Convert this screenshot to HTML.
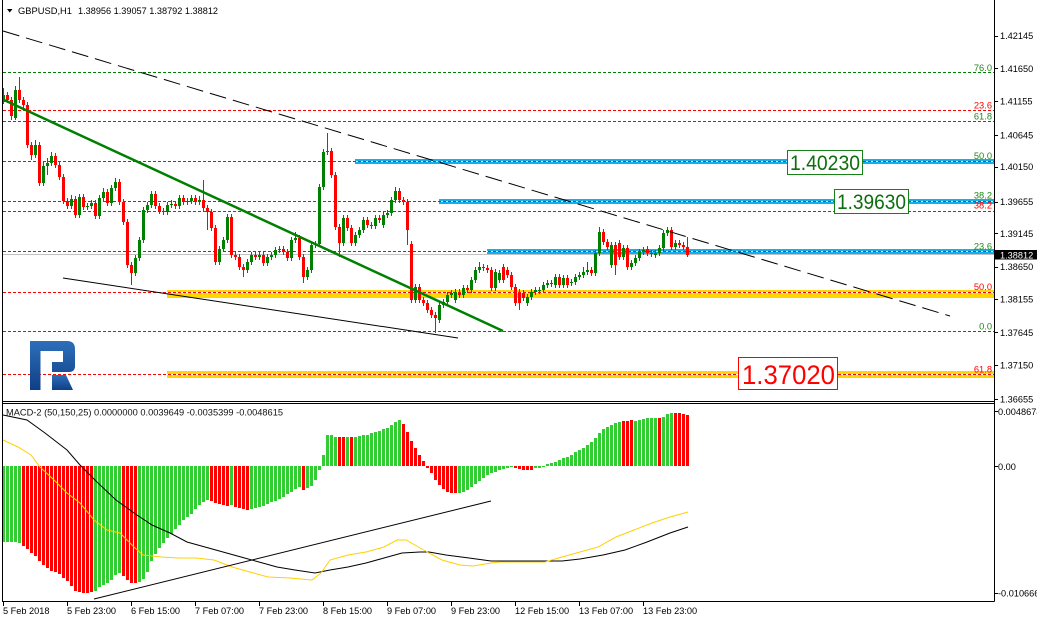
<!DOCTYPE html>
<html><head><meta charset="utf-8"><style>
html,body{margin:0;padding:0;background:#fff;width:1037px;height:622px;overflow:hidden}
svg{display:block;font-family:"Liberation Sans",Arial,sans-serif}
</style></head><body>
<svg width="1037" height="622" viewBox="0 0 1037 622" xmlns="http://www.w3.org/2000/svg">
<defs><linearGradient id="lg" x1="0" y1="0" x2="0" y2="1"><stop offset="0" stop-color="#2d6fba"/><stop offset="1" stop-color="#0f3f86"/></linearGradient></defs>
<rect width="1037" height="622" fill="#fff"/>

<!-- bands -->
<g shape-rendering="crispEdges">
<rect x="355" y="159" width="639" height="5" fill="#12b0ec"/>
<rect x="439" y="199" width="555" height="5" fill="#12b0ec"/>
<rect x="487" y="249" width="507" height="5" fill="#12b0ec"/>
<rect x="167" y="290" width="827" height="8" fill="#ffd700"/>
<rect x="167" y="371" width="827" height="7" fill="#ffd700"/>
<path d="M355 161.5H994M439 201.5H994M487 251.5H994M167 292.5H994M167 374.5H994" stroke="#fff" stroke-width="1"/>
<line x1="3" y1="254.5" x2="994" y2="254.5" stroke="#c0c0c0" stroke-width="1"/>
<path d="M3 72.5H994M3 121.5H994M3 161.5H994M3 201.5H994M3 251.5H994M3 331.5H994" stroke="#008000" stroke-width="1" stroke-dasharray="3,2" fill="none"/>
<path d="M3 110.5H994M3 211.5H994M3 292.5H994M3 374.5H994" stroke="#ff0000" stroke-width="1" stroke-dasharray="3,2" fill="none"/>
</g>

<!-- fib labels -->
<g font-size="9.3" text-anchor="end">
<text x="992" y="71" fill="#1f861f">76.0</text>
<text x="992" y="108.5" fill="#ff0000">23.6</text>
<text x="992" y="119.5" fill="#1f861f">61.8</text>
<text x="992" y="159" fill="#1f861f">50.0</text>
<text x="992" y="198.5" fill="#1f861f">38.2</text>
<text x="992" y="208.5" fill="#ff0000">38.2</text>
<text x="992" y="249.5" fill="#1f861f">23.6</text>
<text x="992" y="290" fill="#ff0000">50.0</text>
<text x="992" y="329.5" fill="#1f861f">0.0</text>
<text x="992" y="372.5" fill="#ff0000">61.8</text>
</g>

<!-- logo -->
<path d="M30 341H67Q75 341 75 349V366Q75 372 69 372H52V362H63V351H40.5V390H30Z" fill="url(#lg)"/>
<path d="M52 375H66L73 390H52Z" fill="url(#lg)"/>

<!-- candles -->
<g shape-rendering="crispEdges" fill="none">
<path stroke="#008000" stroke-width="1" d="M3.5 88V104M15.5 86V120M35.5 140V158M43.5 162V186M47.5 158V175M51.5 152V166M71.5 195V209M79.5 194V218M87.5 203V210M91.5 200V209M99.5 195V219M103.5 188V201M111.5 185V206M115.5 178V191M135.5 255V276M139.5 237V261M143.5 207V243M147.5 202V213M151.5 191V208M167.5 202V215M171.5 200V208M179.5 195V209M187.5 198V205M191.5 195V204M199.5 196V205M219.5 246V265M223.5 237V252M227.5 214V243M247.5 259V273M251.5 252V265M259.5 252V260M267.5 254V266M271.5 252V260M275.5 247V258M279.5 246V253M291.5 237V261M295.5 232V243M307.5 267V280M311.5 242V273M315.5 241V248M319.5 184V247M323.5 149V190M327.5 133V155M343.5 215V246M355.5 232V246M359.5 227V238M363.5 217V233M375.5 215V229M383.5 212V228M387.5 210V218M391.5 197V216M395.5 187V203M415.5 284V303M439.5 302V323M443.5 299V308M447.5 292V305M451.5 290V298M455.5 289V303M463.5 285V298M471.5 277V293M475.5 267V283M479.5 262V273M495.5 269V291M499.5 270V283M527.5 294V306M531.5 289V300M535.5 287V295M539.5 287V294M543.5 282V293M547.5 280V288M551.5 280V287M555.5 274V288M563.5 275V288M571.5 279V286M575.5 274V285M579.5 272V280M583.5 267V278M587.5 262V275M595.5 250V276M599.5 227V256M611.5 242V268M623.5 245V260M631.5 260V270M635.5 255V266M639.5 249V261M643.5 247V255M655.5 250V258M659.5 245V256M663.5 230V251M667.5 227V236M675.5 240V250"/>
<path stroke="#008000" stroke-width="3" d="M3.5 95V102M15.5 90V118M35.5 145V155M43.5 166V183M47.5 163V166M51.5 156V163M71.5 199V206M79.5 197V215M87.5 206V207M91.5 203V206M99.5 198V216M103.5 192V198M111.5 188V203M115.5 182V188M135.5 258V273M139.5 240V258M143.5 210V240M147.5 205V210M151.5 194V205M167.5 205V212M171.5 204V205M179.5 198V206M187.5 201V202M191.5 198V201M199.5 200V202M219.5 249V262M223.5 240V249M227.5 217V240M247.5 262V270M251.5 255V262M259.5 255V257M267.5 257V263M271.5 255V257M275.5 250V255M279.5 249V250M291.5 240V258M295.5 238V240M307.5 270V277M311.5 245V270M315.5 244V245M319.5 187V244M323.5 152V187M327.5 151V152M343.5 218V243M355.5 235V243M359.5 230V235M363.5 220V230M375.5 218V226M383.5 215V225M387.5 213V215M391.5 200V213M395.5 191V200M415.5 287V300M439.5 305V320M443.5 302V305M447.5 295V302M451.5 293V295M455.5 292V300M463.5 288V295M471.5 280V290M475.5 270V280M479.5 267V270M495.5 272V288M499.5 273V280M527.5 297V303M531.5 292V297M535.5 290V292M539.5 290V291M543.5 285V290M547.5 283V285M551.5 283V284M555.5 277V285M563.5 278V285M571.5 282V283M575.5 277V282M579.5 275V277M583.5 272V275M587.5 270V272M595.5 253V273M599.5 232V253M611.5 245V265M623.5 248V257M631.5 263V267M635.5 258V263M639.5 252V258M643.5 250V252M655.5 253V255M659.5 248V253M663.5 233V248M667.5 230V233M675.5 243V247"/>
<path stroke="#ff0000" stroke-width="1" d="M7.5 92V103M11.5 97V120M19.5 77V103M23.5 97V108M27.5 102V148M31.5 142V160M39.5 142V186M55.5 153V168M59.5 162V180M63.5 174V204M67.5 198V209M75.5 196V218M83.5 194V210M95.5 200V219M107.5 189V206M119.5 179V205M123.5 199V225M127.5 219V268M131.5 262V285M155.5 191V209M159.5 203V214M163.5 208V215M175.5 201V209M183.5 195V205M195.5 195V205M203.5 180V211M207.5 205V230M211.5 209V231M215.5 225V265M231.5 214V258M235.5 252V260M239.5 254V270M243.5 264V277M255.5 252V260M263.5 252V266M283.5 246V255M287.5 249V261M299.5 235V260M303.5 254V283M331.5 148V178M335.5 172V230M339.5 224V257M347.5 215V231M351.5 225V246M367.5 217V228M371.5 222V229M379.5 215V223M399.5 188V203M403.5 197V205M407.5 199V245M411.5 241V303M419.5 284V303M423.5 297V306M427.5 300V313M431.5 307V318M435.5 312V333M459.5 289V298M467.5 285V293M483.5 264V271M487.5 265V273M491.5 267V291M503.5 264V283M507.5 267V278M511.5 272V290M515.5 284V306M519.5 289V310M523.5 290V301M559.5 274V288M567.5 275V288M591.5 267V276M603.5 229V245M607.5 239V250M615.5 242V275M619.5 240V260M627.5 245V270M647.5 246V256M651.5 250V257M671.5 227V250M679.5 240V248M683.5 242V250M687.5 237V257"/>
<path stroke="#ff0000" stroke-width="3" d="M7.5 95V100M11.5 100V116M19.5 90V100M23.5 100V105M27.5 105V145M31.5 145V155M39.5 145V183M55.5 156V165M59.5 165V177M63.5 177V201M67.5 201V206M75.5 199V215M83.5 197V207M95.5 203V216M107.5 192V203M119.5 182V202M123.5 202V222M127.5 222V265M131.5 265V273M155.5 194V206M159.5 206V211M163.5 211V212M175.5 204V206M183.5 198V202M195.5 198V202M203.5 200V208M207.5 208V212M211.5 212V228M215.5 228V262M231.5 217V255M235.5 255V257M239.5 257V267M243.5 267V270M255.5 255V257M263.5 255V263M283.5 249V252M287.5 252V258M299.5 238V257M303.5 257V277M331.5 151V175M335.5 175V227M339.5 227V243M347.5 218V228M351.5 228V243M367.5 220V225M371.5 225V226M379.5 218V220M399.5 191V200M403.5 200V202M407.5 202V230M411.5 244V300M419.5 287V300M423.5 300V303M427.5 303V310M431.5 310V315M435.5 315V318M459.5 292V295M467.5 288V290M483.5 267V268M487.5 268V270M491.5 270V288M503.5 267V280M507.5 270V275M511.5 275V287M515.5 287V303M519.5 292V303M523.5 293V298M559.5 277V285M567.5 278V285M591.5 270V273M603.5 232V242M607.5 242V247M615.5 245V265M619.5 243V257M627.5 248V267M647.5 249V253M651.5 253V254M671.5 230V247M679.5 243V245M683.5 245V247M687.5 247V255"/>
</g>

<!-- trend lines -->
<line x1="3" y1="31" x2="950" y2="316" stroke="#000" stroke-width="1" stroke-dasharray="17,7"/>
<line x1="3" y1="99.5" x2="503" y2="331" stroke="#008000" stroke-width="2.5"/>
<line x1="63" y1="278" x2="458" y2="338" stroke="#000" stroke-width="1"/>

<!-- level boxes -->
<rect x="787.5" y="150.5" width="75" height="24" fill="#fff" stroke="#178017" stroke-width="1"/>
<text x="790" y="170" font-size="21" fill="#0c6e0c" textLength="70" lengthAdjust="spacingAndGlyphs">1.40230</text>
<rect x="834.5" y="189.5" width="74" height="24" fill="#fff" stroke="#178017" stroke-width="1"/>
<text x="837" y="209" font-size="21" fill="#0c6e0c" textLength="69" lengthAdjust="spacingAndGlyphs">1.39630</text>
<rect x="738.5" y="357.5" width="99" height="32" fill="#fff" stroke="#ff0000" stroke-width="1"/>
<text x="742" y="384" font-size="26.5" fill="#ff0000" textLength="93" lengthAdjust="spacingAndGlyphs">1.37020</text>

<!-- header -->
<polygon points="7,9 12.5,9 9.75,12.5" fill="#000"/>
<text x="18" y="14" font-size="9.5" fill="#000" textLength="54" lengthAdjust="spacingAndGlyphs">GBPUSD,H1</text>
<text x="78" y="14" font-size="9.5" fill="#000" textLength="140" lengthAdjust="spacingAndGlyphs">1.38956 1.39057 1.38792 1.38812</text>

<!-- MACD histogram -->
<g shape-rendering="crispEdges" fill="none">
<path stroke="#32cd32" stroke-width="3" d="M3.5 466V542M7.5 466V542M11.5 466V542M15.5 466V542M19.5 466V543M95.5 466V591M99.5 466V587M103.5 466V585M107.5 466V583M111.5 466V580M115.5 466V575M119.5 466V573M139.5 466V582M143.5 466V579M147.5 466V572M151.5 466V561M155.5 466V554M159.5 466V548M163.5 466V543M167.5 466V538M171.5 466V534M175.5 466V529M179.5 466V525M183.5 466V520M187.5 466V517M191.5 466V514M195.5 466V509M199.5 466V505M203.5 466V502M207.5 466V500M231.5 466V505M251.5 466V509M255.5 466V508M259.5 466V507M263.5 466V506M267.5 466V504M271.5 466V502M275.5 466V501M279.5 466V499M283.5 466V497M287.5 466V494M291.5 466V492M295.5 466V489M299.5 466V487M307.5 466V488M311.5 466V486M315.5 466V480M319.5 466V470M323.5 466V455M327.5 466V435M331.5 466V435M335.5 466V437M347.5 466V437M355.5 466V437M359.5 466V436M363.5 466V435M367.5 466V435M371.5 466V433M375.5 466V432M379.5 466V431M383.5 466V429M387.5 466V428M391.5 466V425M395.5 466V422M399.5 466V420M459.5 466V493M463.5 466V492M467.5 466V490M471.5 466V487M475.5 466V484M479.5 466V481M483.5 466V478M487.5 466V475M491.5 466V473M495.5 466V472M499.5 466V470M503.5 466V469M507.5 466V468M511.5 466V467M535.5 466V468M539.5 466V468M543.5 466V467M547.5 466V464M551.5 466V463M555.5 466V462M559.5 466V460M563.5 466V458M567.5 466V457M571.5 466V455M575.5 466V452M579.5 466V450M583.5 466V448M587.5 466V445M591.5 466V442M595.5 466V438M599.5 466V433M603.5 466V429M607.5 466V427M611.5 466V425M615.5 466V423M619.5 466V422M635.5 466V421M639.5 466V420M643.5 466V419M647.5 466V418M651.5 466V418M655.5 466V418M663.5 466V417M667.5 466V414M671.5 466V413"/>
<path stroke="#ff0000" stroke-width="3" d="M23.5 466V546M27.5 466V549M31.5 466V553M35.5 466V556M39.5 466V561M43.5 466V565M47.5 466V568M51.5 466V571M55.5 466V572M59.5 466V574M63.5 466V578M67.5 466V581M71.5 466V586M75.5 466V591M79.5 466V592M83.5 466V593M87.5 466V593M91.5 466V592M123.5 466V576M127.5 466V580M131.5 466V583M135.5 466V583M211.5 466V501M215.5 466V503M219.5 466V504M223.5 466V505M227.5 466V506M235.5 466V507M239.5 466V508M243.5 466V509M247.5 466V510M303.5 466V490M339.5 466V437M343.5 466V437M351.5 466V437M403.5 466V424M407.5 466V432M411.5 466V441M415.5 466V448M419.5 466V455M423.5 466V461M427.5 466V468M431.5 466V473M435.5 466V480M439.5 466V485M443.5 466V489M447.5 466V492M451.5 466V493M455.5 466V493M515.5 466V468M519.5 466V469M523.5 466V470M527.5 466V470M531.5 466V470M623.5 466V421M627.5 466V421M631.5 466V420M659.5 466V418M675.5 466V413M679.5 466V413M683.5 466V414M687.5 466V415"/>
</g>
<polyline fill="none" stroke="#000" stroke-width="1" points="3,415 27,420 45,433 67,450 80,465 98,483 116,500 134,513 152,525 170,533 187,542 205,547 223,552 241,557 259,562 277,567 295,570 315,573 330,570 348,567 366,563 384,558 402,553 420,552 429,552 446,555 469,558 491,561 536,561 562,561 580,559 603,555 625,550 647,542 670,533 688,527"/>
<polyline fill="none" stroke="#ffd000" stroke-width="1" points="3,440 18,447 31,455 40,467 54,480 67,493 80,503 94,520 107,530 120,533 134,547 143,555 161,557 179,558 196,558 214,560 232,567 250,572 268,577 290,578 312,580 321,573 330,560 348,555 366,552 384,547 397,540 406,540 415,545 429,553 442,560 460,565 473,566 491,563 500,562 545,562 562,557 580,552 598,547 616,537 634,530 652,523 670,517 688,512"/>
<line x1="94" y1="599" x2="491" y2="501" stroke="#000" stroke-width="1"/>
<text x="6" y="415.5" font-size="9.5" fill="#111" textLength="277" lengthAdjust="spacingAndGlyphs">MACD-2 (50,150,25) 0.0000000 0.0039649 -0.0035399 -0.0048615</text>

<!-- frames -->
<g shape-rendering="crispEdges" stroke="#000" stroke-width="1" fill="none">
<path d="M2.5 0V601.5M994.5 0V601.5M2 401.5H994.5M2 403.5H994.5M2 601.5H994.5"/>
<path d="M994 36.5H998M994 68.5H998M994 101.5H998M994 135.5H998M994 167.5H998M994 202.5H998M994 233.5H998M994 267.5H998M994 299.5H998M994 332.5H998M994 365.5H998M994 399.5H998M994 411.5H998M994 466.5H998M994 593.5H998"/>
<path d="M3.5 601V606M67.5 601V606M131.5 601V606M195.5 601V606M259.5 601V606M323.5 601V606M387.5 601V606M451.5 601V606M515.5 601V606M579.5 601V606M643.5 601V606"/>
</g>

<!-- price axis -->
<g font-size="9.2" fill="#000">
<text x="1000" y="39">1.42145</text>
<text x="1000" y="72">1.41650</text>
<text x="1000" y="104.5">1.41155</text>
<text x="1000" y="138.5">1.40645</text>
<text x="1000" y="170">1.40150</text>
<text x="1000" y="205">1.39655</text>
<text x="1000" y="237">1.39145</text>
<text x="1000" y="270">1.38650</text>
<text x="1000" y="302.5">1.38155</text>
<text x="1000" y="336">1.37645</text>
<text x="1000" y="368.5">1.37150</text>
<text x="1000" y="402.5">1.36655</text>
<text x="998" y="415">0.0048674</text>
<text x="998" y="470">0.00</text>
<text x="998" y="596.5">-0.0106661</text>
</g>
<rect x="995" y="250" width="42" height="9.5" fill="#000"/>
<text x="1000" y="258.5" font-size="9.2" fill="#fff">1.38812</text>

<!-- time axis -->
<g font-size="9.2" fill="#000">
<text x="3" y="614">5 Feb 2018</text>
<text x="67" y="614">5 Feb 23:00</text>
<text x="131" y="614">6 Feb 15:00</text>
<text x="195" y="614">7 Feb 07:00</text>
<text x="259" y="614">7 Feb 23:00</text>
<text x="323" y="614">8 Feb 15:00</text>
<text x="387" y="614">9 Feb 07:00</text>
<text x="451" y="614">9 Feb 23:00</text>
<text x="515" y="614">12 Feb 15:00</text>
<text x="579" y="614">13 Feb 07:00</text>
<text x="643" y="614">13 Feb 23:00</text>
</g>
</svg>
</body></html>
